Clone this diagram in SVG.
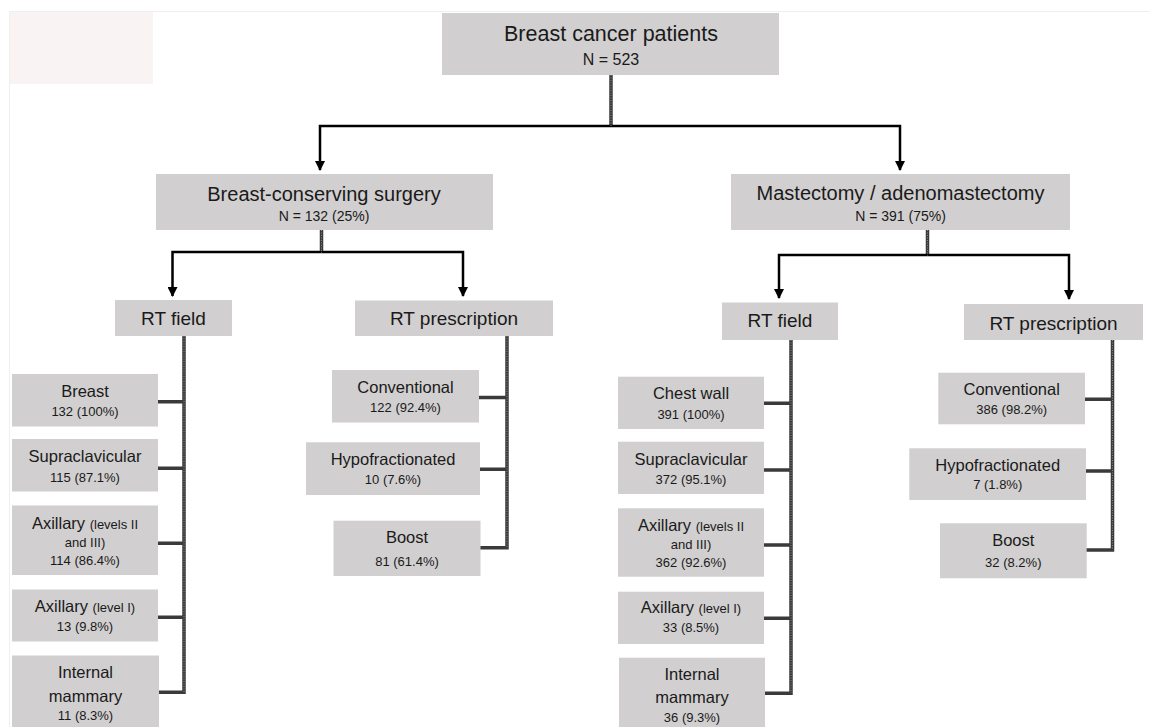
<svg xmlns="http://www.w3.org/2000/svg" width="1150" height="727" viewBox="0 0 1150 727">
<defs>
<marker id="ah" viewBox="0 0 10 10" refX="9" refY="5" markerWidth="4" markerHeight="4" orient="auto" markerUnits="strokeWidth">
<path d="M0,0 L10,5 L0,10 Z" fill="#000"/>
</marker>
<style>
.box{fill:#d1cfcf;}
text{font-family:"Liberation Sans",Arial,sans-serif;fill:#1a1a1a;text-anchor:middle;}
.t1{font-size:21.5px;}
.t2{font-size:20px;}
.t3{font-size:19px;}
.t4{font-size:16.5px;}
.n1{font-size:16px;}
.n2{font-size:14px;}
.n3{font-size:13px;}
.sm{font-size:13px;}
.arr{fill:none;stroke:#000;stroke-width:2.5;}
.stem{fill:none;stroke:#3a3a3a;stroke-width:3.5;}
.tex{fill:none;stroke:#8a8a8a;stroke-width:1;stroke-dasharray:1 1.5;}
</style>
</defs>
<rect x="0" y="0" width="1150" height="727" fill="#fff"/>
<rect x="9.5" y="11.5" width="1150" height="730" fill="none" stroke="#efefef" stroke-width="1"/>
<rect x="10" y="12" width="143" height="72" fill="#f9f4f3"/>

<g id="connectors">
<path class="stem" d="M611,75 V126"/>
<path class="arr" d="M611,126 H320 V170" marker-end="url(#ah)"/>
<path class="arr" d="M611,126 H900 V170" marker-end="url(#ah)"/>
<path class="stem" d="M321.5,230 V252"/>
<path class="arr" d="M321.5,252 H172.5 V296" marker-end="url(#ah)"/>
<path class="arr" d="M321.5,252 H463 V296" marker-end="url(#ah)"/>
<path class="stem" d="M927.5,230 V255"/>
<path class="arr" d="M927.5,255 H779 V298" marker-end="url(#ah)"/>
<path class="arr" d="M927.5,255 H1069 V299" marker-end="url(#ah)"/>
<path class="stem" d="M184,336 V692.3 H158 M158,401.7 H184 M158,468.3 H184 M158,543.3 H184 M158,617.3 H184"/>
<path class="stem" d="M507,336 V547.7 H480 M479,397.5 H507 M480,469.3 H507"/>
<path class="stem" d="M791,340 V693.3 H764 M764,403.3 H791 M764,470 H791 M764,545 H791 M764,618.3 H791"/>
<path class="stem" d="M1112.5,340 V550 H1086 M1085,399.3 H1112.5 M1086,471 H1112.5"/>
<path class="tex" d="M611,75 V126 M321.5,230 V252 M927.5,230 V255 M184,336 V692 M507,336 V547 M791,340 V693 M1112.5,340 V550"/>
</g>

<g id="n-root">
<rect class="box" x="442" y="13" width="337" height="62"/>
<text class="t1" x="611" y="41">Breast cancer patients</text>
<text class="n1" x="611" y="65">N = 523</text>
</g>

<g id="n-bcs">
<rect class="box" x="156" y="174" width="337" height="56"/>
<text class="t2" x="324" y="200.5">Breast-conserving surgery</text>
<text class="n2" x="324" y="221">N = 132 (25%)</text>
</g>

<g id="n-mast">
<rect class="box" x="731" y="174" width="339" height="56"/>
<text class="t2" x="900.5" y="200">Mastectomy / adenomastectomy</text>
<text class="n2" x="900.5" y="221">N = 391 (75%)</text>
</g>

<g id="n-bcs-field">
<rect class="box" x="115" y="300" width="117" height="36"/>
<text class="t3" x="173.5" y="325">RT field</text>
</g>
<g id="n-bcs-presc">
<rect class="box" x="355" y="300.5" width="198" height="35.5"/>
<text class="t3" x="454" y="325">RT prescription</text>
</g>
<g id="n-mast-field">
<rect class="box" x="722" y="302.5" width="116" height="37.5"/>
<text class="t3" x="780" y="327">RT field</text>
</g>
<g id="n-mast-presc">
<rect class="box" x="964" y="304" width="179" height="36"/>
<text class="t3" x="1053.5" y="330">RT prescription</text>
</g>

<g id="n-bcs-breast">
<rect class="box" x="12" y="374" width="146" height="52.5"/>
<text class="t4" x="85" y="396.5">Breast</text>
<text class="n3" x="85" y="416">132 (100%)</text>
</g>
<g id="n-bcs-supra">
<rect class="box" x="12" y="439" width="146" height="52.5"/>
<text class="t4" x="85" y="461.5">Supraclavicular</text>
<text class="n3" x="85" y="481.5">115 (87.1%)</text>
</g>
<g id="n-bcs-ax23">
<rect class="box" x="12" y="505.5" width="146" height="69.5"/>
<text class="t4" x="85" y="529">Axillary <tspan class="sm">(levels II</tspan></text>
<text class="sm" x="85" y="546.5">and III)</text>
<text class="n3" x="85" y="565">114 (86.4%)</text>
</g>
<g id="n-bcs-ax1">
<rect class="box" x="12" y="589.5" width="146" height="52"/>
<text class="t4" x="85" y="611.5">Axillary <tspan class="sm">(level I)</tspan></text>
<text class="n3" x="85" y="630.5">13 (9.8%)</text>
</g>
<g id="n-bcs-im">
<rect class="box" x="12" y="655.5" width="147" height="75"/>
<text class="t4" x="85.5" y="678">Internal</text>
<text class="t4" x="85.5" y="701.5">mammary</text>
<text class="n3" x="85.5" y="720">11 (8.3%)</text>
</g>

<g id="n-bcs-conv">
<rect class="box" x="332" y="370" width="147" height="52.5"/>
<text class="t4" x="405.5" y="393.3">Conventional</text>
<text class="n3" x="405.5" y="411.7">122 (92.4%)</text>
</g>
<g id="n-bcs-hypo">
<rect class="box" x="306" y="442.3" width="174" height="52.7"/>
<text class="t4" x="393" y="465">Hypofractionated</text>
<text class="n3" x="393" y="484">10 (7.6%)</text>
</g>
<g id="n-bcs-boost">
<rect class="box" x="333.5" y="520.7" width="147" height="55.3"/>
<text class="t4" x="407" y="543.3">Boost</text>
<text class="n3" x="407" y="566">81 (61.4%)</text>
</g>

<g id="n-mast-chest">
<rect class="box" x="618" y="376.7" width="146" height="52.3"/>
<text class="t4" x="691" y="399.3">Chest wall</text>
<text class="n3" x="691" y="419">391 (100%)</text>
</g>
<g id="n-mast-supra">
<rect class="box" x="618" y="441.7" width="146" height="52.3"/>
<text class="t4" x="691" y="465">Supraclavicular</text>
<text class="n3" x="691" y="484">372 (95.1%)</text>
</g>
<g id="n-mast-ax23">
<rect class="box" x="618" y="508.3" width="146" height="68.4"/>
<text class="t4" x="691" y="530.7">Axillary <tspan class="sm">(levels II</tspan></text>
<text class="sm" x="691" y="549">and III)</text>
<text class="n3" x="691" y="566.7">362 (92.6%)</text>
</g>
<g id="n-mast-ax1">
<rect class="box" x="618" y="591.7" width="146" height="52.3"/>
<text class="t4" x="691" y="612.7">Axillary <tspan class="sm">(level I)</tspan></text>
<text class="n3" x="691" y="631.7">33 (8.5%)</text>
</g>
<g id="n-mast-im">
<rect class="box" x="619" y="657.7" width="146" height="75"/>
<text class="t4" x="692" y="680">Internal</text>
<text class="t4" x="692" y="703.3">mammary</text>
<text class="n3" x="692" y="721.7">36 (9.3%)</text>
</g>

<g id="n-mast-conv">
<rect class="box" x="938.3" y="372.7" width="146.7" height="51.6"/>
<text class="t4" x="1011.7" y="395">Conventional</text>
<text class="n3" x="1011.7" y="414.3">386 (98.2%)</text>
</g>
<g id="n-mast-hypo">
<rect class="box" x="909.3" y="448.3" width="176.7" height="51.7"/>
<text class="t4" x="997.7" y="470.7">Hypofractionated</text>
<text class="n3" x="997.7" y="489.3">7 (1.8%)</text>
</g>
<g id="n-mast-boost">
<rect class="box" x="940" y="523.3" width="146.7" height="55"/>
<text class="t4" x="1013.3" y="545.7">Boost</text>
<text class="n3" x="1013.3" y="567.3">32 (8.2%)</text>
</g>
</svg>
